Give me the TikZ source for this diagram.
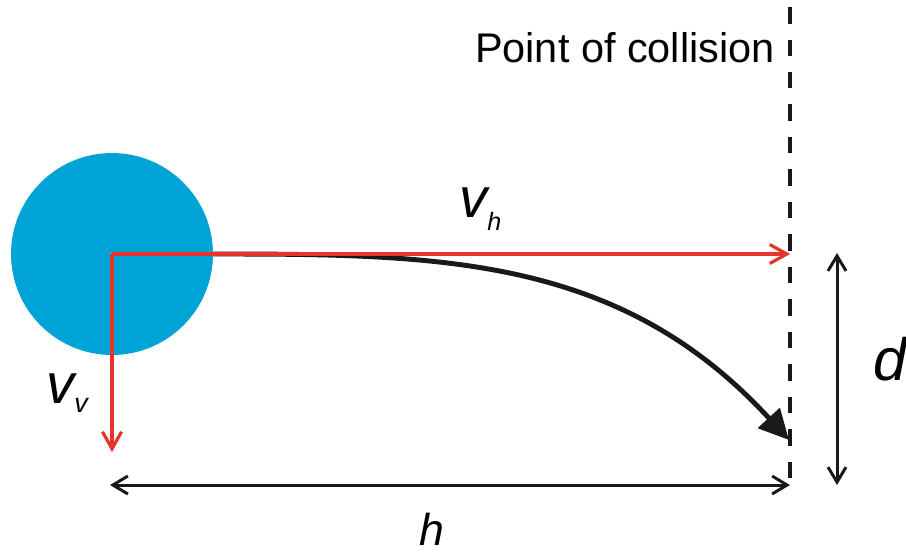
\documentclass[tikz,border=0pt]{standalone}
\usepackage{fontspec}
\setmainfont{Liberation Sans}
\usepackage{xcolor}
\usepackage{tikz}
\usetikzlibrary{arrows.meta,positioning,calc}
\definecolor{ballblue}{HTML}{00A3D6}
\definecolor{vecred}{HTML}{E5352A}

\begin{document}
\begin{tikzpicture}[
          x=0.02cm, y=-0.02cm,
          redvec/.style={draw=vecred, line width=1.8pt, -{Straight Barb[length=0.34cm, width=0.38cm]}},
          dimarrow/.style={draw=black!90, line width=1.7pt, {Straight Barb[length=0.3cm, width=0.36cm]}-{Straight Barb[length=0.3cm, width=0.36cm]}},
          wall/.style={draw=black!90, line width=1.9pt, dash pattern=on 0.33cm off 0.32cm},
          lbl/.style={inner sep=0pt, font=\itshape}
      ]
        \useasboundingbox (0,0) rectangle (906,556);

        % ball and its path
        \node[circle, fill=ballblue, minimum size=4.04cm, inner sep=0pt] (ball) at (112,254) {};
        \coordinate (hit) at (789,440);
        \draw[line width=2.8pt, black!90, -{Triangle[length=0.6cm, width=0.58cm]}]
          (ball.east) .. controls (440,254) and (620,256) .. (hit);

        % velocity parts
        \coordinate (vhend) at (790,254);
        \coordinate (vvend) at (112,452);
        \draw[redvec] (ball.center) -- (vhend);
        \draw[redvec] (ball.center) -- (vvend);

        % wall
        \coordinate (walltop) at (790,7);
        \coordinate (wallbot) at (790,485);
        \draw[wall] (walltop) -- (wallbot);
        \node[anchor=base east, inner sep=0pt, font=\fontsize{23.6}{28}\selectfont] (poc) at (775,62) {Point of collision};

        % distances
        \coordinate (hleft) at (110,485);
        \coordinate (hright) at (790,485);
        \coordinate (dtop) at (837,253);
        \coordinate (dbot) at (837,485);
        \draw[dimarrow] (hleft) -- (hright);
        \draw[dimarrow] (dtop) -- (dbot);

        \node[lbl, anchor=base west, font=\fontsize{32}{34}\selectfont\itshape] (vh) at (459,217)
          {v\raisebox{-0.26cm}{\fontsize{14.3}{16}\selectfont h}};
        \node[lbl, anchor=base west, font=\fontsize{32}{34}\selectfont\itshape] (vv) at (46,403)
          {v\raisebox{-0.18cm}{\fontsize{15.3}{16}\selectfont v}};
        \node[lbl, anchor=base west, font=\fontsize{34}{36}\selectfont\itshape] (dlbl) at (873,380) {d};
        \node[lbl, anchor=base west, font=\fontsize{25.4}{28}\selectfont\itshape] (hlbl) at (419,545) {h};
      \end{tikzpicture}
\end{document}
